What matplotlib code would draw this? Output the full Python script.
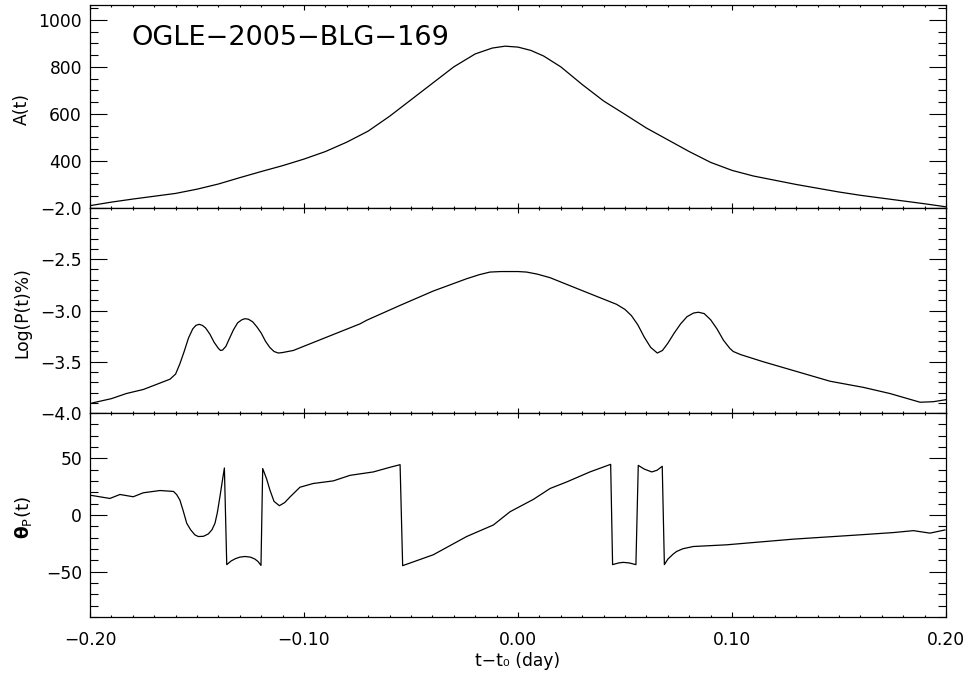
import numpy as np
import matplotlib
matplotlib.use("Agg")
import matplotlib.pyplot as plt
from matplotlib.ticker import MultipleLocator, FixedLocator, FuncFormatter

# values

# top panel: magnification A(t)
t_amp = [-0.200, -0.190, -0.180, -0.170, -0.160, -0.150, -0.140, -0.130, -0.120,
         -0.110, -0.100, -0.090, -0.080, -0.070, -0.060, -0.050, -0.040, -0.030,
         -0.020, -0.012, -0.006, 0.000, 0.006, 0.012, 0.020, 0.030, 0.040, 0.050,
         0.060, 0.070, 0.080, 0.090, 0.100, 0.110, 0.120, 0.130, 0.140, 0.150,
         0.160, 0.170, 0.180, 0.190, 0.200]
amp = [210, 225, 238, 250, 262, 280, 302, 329, 355,
       380, 408, 440, 480, 527, 590, 660, 730, 800,
       855, 880, 888, 884, 870, 846, 800, 725, 655, 598,
       540, 490, 440, 394, 360, 336, 318, 300, 284, 268,
       254, 242, 230, 218, 205]

# middle panel: log of polarization
t_pol = [-0.200, -0.1985, -0.190, -0.183, -0.175, -0.1626, -0.160, -0.158, -0.156,
         -0.154, -0.152, -0.1505, -0.149, -0.1475, -0.146, -0.144, -0.142, -0.140,
         -0.139, -0.138, -0.1365, -0.135, -0.133, -0.131, -0.129, -0.1276, -0.126,
         -0.124, -0.122, -0.120, -0.118, -0.116, -0.114, -0.112, -0.110, -0.105,
         -0.0894, -0.0738, -0.0707, -0.0551, -0.0396, -0.024, -0.018, -0.0131, -0.008,
         0.000, 0.004, 0.009, 0.015, 0.0305, 0.0461, 0.050, 0.053, 0.056, 0.059,
         0.062, 0.0651, 0.0675, 0.070, 0.073, 0.076, 0.079, 0.082, 0.0843, 0.087,
         0.090, 0.093, 0.096, 0.099, 0.1006, 0.104, 0.1146, 0.1302, 0.1458, 0.1614,
         0.1738, 0.1879, 0.194, 0.200]
logp = [-3.91, -3.90, -3.86, -3.81, -3.77, -3.67, -3.62, -3.52, -3.40,
        -3.27, -3.18, -3.145, -3.135, -3.145, -3.17, -3.23, -3.31, -3.37,
        -3.39, -3.385, -3.35, -3.28, -3.19, -3.12, -3.09, -3.08, -3.085,
        -3.11, -3.16, -3.22, -3.30, -3.36, -3.40, -3.415, -3.41, -3.39,
        -3.26, -3.13, -3.095, -2.95, -2.81, -2.69, -2.65, -2.625, -2.62,
        -2.62, -2.625, -2.645, -2.68, -2.81, -2.94, -2.99, -3.05, -3.14, -3.26,
        -3.36, -3.415, -3.39, -3.32, -3.22, -3.13, -3.06, -3.025, -3.017, -3.03,
        -3.09, -3.18, -3.29, -3.37, -3.40, -3.43, -3.50, -3.595, -3.69, -3.75,
        -3.81, -3.895, -3.89, -3.87]

# bottom panel: polarization angle
t_ang = [-0.200, -0.1907, -0.186, -0.1798, -0.1751, -0.1673, -0.161, -0.1595, -0.158,
         -0.1565, -0.1548, -0.153, -0.151, -0.1494, -0.147, -0.1447, -0.143, -0.1416,
         -0.1405, -0.1393, -0.138, -0.1372, -0.1361, -0.134, -0.132, -0.130, -0.1276,
         -0.125, -0.123, -0.1215, -0.1201, -0.1193, -0.1175, -0.1159, -0.114, -0.1115,
         -0.109, -0.1065, -0.1019, -0.0957, -0.0863, -0.0785, -0.0676, -0.060, -0.0551,
         -0.0539, -0.0396, -0.024, -0.0115, -0.0037, 0.0072, 0.015, 0.0228, 0.0336,
         0.0433, 0.0442, 0.047, 0.0492, 0.052, 0.0551, 0.0562, 0.059, 0.0625, 0.065,
         0.0674, 0.0684, 0.070, 0.0725, 0.0741, 0.077, 0.0819, 0.0975, 0.1287, 0.1598,
         0.1754, 0.1848, 0.1925, 0.1995]
theta = [17.5, 14.6, 18.1, 16.1, 19.6, 21.6, 20.8, 18.0, 13.2,
         4.0, -7.3, -13.0, -17.5, -19.0, -18.8, -16.7, -13.0, -7.3,
         2.0, 16.0, 32.0, 41.5, -43.8, -40.5, -38.5, -37.2, -36.6,
         -37.2, -38.8, -41.0, -44.5, 41.0, 32.0, 21.9, 12.0, 8.2,
         11.0, 16.0, 24.5, 27.8, 30.1, 35.0, 38.0, 42.0, 44.4,
         -44.7, -35.1, -19.0, -8.8, 2.9, 13.8, 23.4, 29.2, 38.0,
         44.7, -43.8, -42.3, -41.8, -42.3, -43.8, 43.8, 40.5, 38.0, 39.5,
         43.0, -43.8, -39.0, -34.5, -32.2, -29.8, -27.8, -26.3, -21.3, -17.5,
         -15.5, -13.8, -16.0, -13.2]

plt.rcParams['font.family'] = ['DejaVu Sans']
fs = 12.3

fig = plt.figure(figsize=(9.68, 6.73), dpi=100)
W, H = 968.0, 673.0
left = 90 / W
width = 856 / W
ax1 = fig.add_axes([left, 1 - 208 / H, width, 203 / H])
ax2 = fig.add_axes([left, 1 - 413 / H, width, 205 / H])
ax3 = fig.add_axes([left, 1 - 617 / H, width, 204 / H])

ax1.plot(t_amp, amp, color="black", lw=0.9)
ax2.plot(t_pol, logp, color="black", lw=0.9)
ax3.plot(t_ang, theta, color="black", lw=0.9)

def minus(s):
    return s.replace("-", "\u2212")

for ax in (ax1, ax2, ax3):
    ax.set_xlim(-0.2, 0.2)
    ax.xaxis.set_major_locator(MultipleLocator(0.1))
    ax.xaxis.set_minor_locator(MultipleLocator(0.01))
    ax.tick_params(which="both", direction="in", top=True, right=True, labelsize=fs)
    ax.tick_params(axis="y", which="major", length=12.2, width=0.8, pad=5.8)
    ax.tick_params(axis="y", which="minor", length=5.8, width=0.8)
    ax.tick_params(axis="x", which="major", length=3.3, width=0.8, pad=10)
    ax.tick_params(axis="x", which="minor", length=1.6, width=0.8)
    for sp in ax.spines.values():
        sp.set_linewidth(0.9)

ax1.set_ylim(200, 1063)
ax1.yaxis.set_major_locator(FixedLocator([400, 600, 800, 1000]))
ax1.yaxis.set_minor_locator(MultipleLocator(50))
ax1.tick_params(labelbottom=False)
ax1.text(0.049, 0.803, "OGLE\u22122005\u2212BLG\u2212169", transform=ax1.transAxes,
         fontsize=19.5, ha="left", va="baseline")

ax2.set_ylim(-4.0, -2.0)
ax2.yaxis.set_major_locator(MultipleLocator(0.5))
ax2.yaxis.set_minor_locator(MultipleLocator(0.1))
ax2.yaxis.set_major_formatter(FuncFormatter(lambda v, p: minus("%.1f" % v)))
ax2.tick_params(labelbottom=False)

ax3.set_ylim(-90, 90)
ax3.yaxis.set_major_locator(FixedLocator([-50, 0, 50]))
ax3.yaxis.set_minor_locator(MultipleLocator(10))
ax3.yaxis.set_major_formatter(FuncFormatter(lambda v, p: minus("%d" % v)))
ax3.xaxis.set_major_formatter(FuncFormatter(lambda v, p: minus("%.2f" % v)))

# axis titles placed in figure pixels
fig.text(22 / W, 1 - 109 / H, "A(t)", rotation=90, ha="center", va="center", fontsize=fs)
fig.text(22 / W, 1 - 313 / H, "Log(P(t)%)", rotation=90, ha="center", va="center", fontsize=fs)
fig.text(24 / W, 1 - 517 / H, r"$\mathbf{\theta}_{\mathrm{P}}\mathrm{(t)}$", rotation=90,
         ha="center", va="center", fontsize=fs + 1)
fig.text(518 / W, 1 - 661 / H, "t\u2212t\u2080 (day)", ha="center", va="center", fontsize=fs)

fig.savefig("out.png", dpi=100)
